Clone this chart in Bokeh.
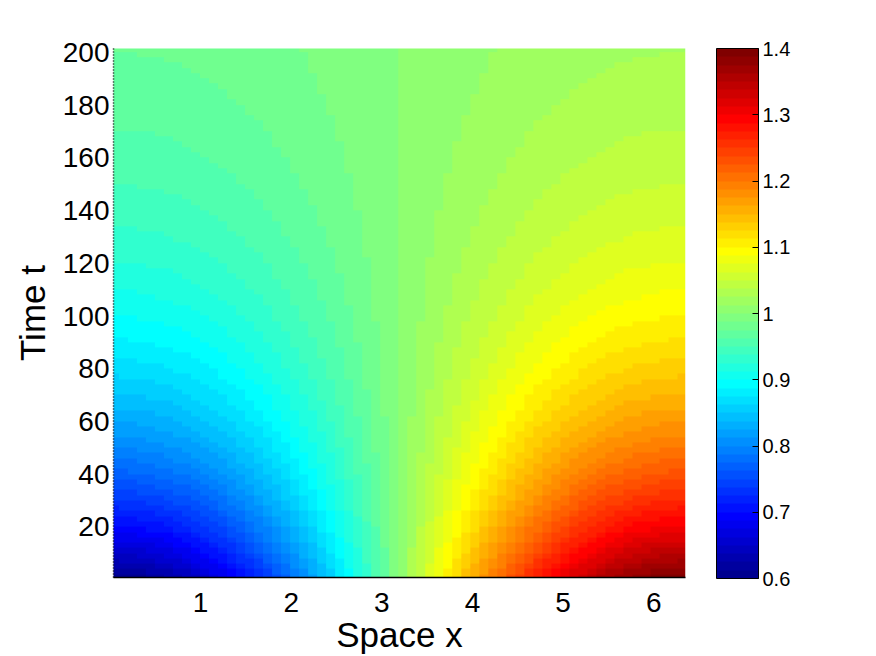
import numpy as np
from bokeh.plotting import figure
from bokeh.models import (LinearColorMapper, ColorBar, FixedTicker,
                          CustomJSTickFormatter, Range1d)
from bokeh.embed import file_html
from bokeh.resources import INLINE

# ---------------- data ----------------
x_ticks = [1, 2, 3, 4, 5, 6]
t_ticks = [20, 40, 60, 80, 100, 120, 140, 160, 180, 200]
cbar_ticks = [0.6, 0.7, 0.8, 0.9, 1.0, 1.1, 1.2, 1.3, 1.4]

# value of u along the bottom row (t ~ 0), 64 equal columns across x in [0, 2*pi]
u_start = [0.6001, 0.6011, 0.6030, 0.6059, 0.6097, 0.6145, 0.6202, 0.6268,
           0.6343, 0.6427, 0.6520, 0.6621, 0.6730, 0.6847, 0.6971, 0.7103,
           0.7242, 0.7387, 0.7539, 0.7697, 0.7860, 0.8028, 0.8202, 0.8379,
           0.8560, 0.8745, 0.8933, 0.9124, 0.9316, 0.9510, 0.9706, 0.9902,
           1.0098, 1.0294, 1.0490, 1.0684, 1.0876, 1.1067, 1.1255, 1.1440,
           1.1621, 1.1798, 1.1972, 1.2140, 1.2303, 1.2461, 1.2613, 1.2758,
           1.2897, 1.3029, 1.3153, 1.3270, 1.3379, 1.3480, 1.3573, 1.3657,
           1.3732, 1.3798, 1.3855, 1.3903, 1.3941, 1.3970, 1.3989, 1.3999]

# share of the initial deviation from 1 that is left, rows every 2 time units (t = 1, 3, ..., 201)
remaining = [0.9862, 0.9593, 0.9330, 0.9075, 0.8827, 0.8586, 0.8351, 0.8123, 0.7900, 0.7684,
             0.7474, 0.7270, 0.7071, 0.6878, 0.6690, 0.6507, 0.6329, 0.6156, 0.5987, 0.5824,
             0.5664, 0.5510, 0.5359, 0.5212, 0.5070,
             0.4931, 0.4796, 0.4665, 0.4538, 0.4414, 0.4293, 0.4176, 0.4061, 0.3950, 0.3842,
             0.3737, 0.3635, 0.3536, 0.3439, 0.3345, 0.3253, 0.3164, 0.3078, 0.2994, 0.2912,
             0.2832, 0.2755, 0.2680, 0.2606, 0.2535,
             0.2466, 0.2398, 0.2333, 0.2269, 0.2207, 0.2146, 0.2088, 0.2031, 0.1975, 0.1921,
             0.1869, 0.1817, 0.1768, 0.1719, 0.1672, 0.1627, 0.1582, 0.1539, 0.1497, 0.1456,
             0.1416, 0.1377, 0.1340, 0.1303, 0.1267,
             0.1233, 0.1199, 0.1166, 0.1134, 0.1103, 0.1073, 0.1044, 0.1015, 0.0988, 0.0961,
             0.0934, 0.0909, 0.0884, 0.0860, 0.0836, 0.0813, 0.0791, 0.0770, 0.0748, 0.0728,
             0.0708, 0.0689, 0.0670, 0.0652, 0.0634,
             0.0616]

field = 1.0 + np.outer(np.array(remaining), np.array(u_start) - 1.0)


# ---------------- MATLAB jet(64) palette ----------------
def jet(m=64):
    n = int(np.ceil(m / 4))
    u = np.concatenate([np.arange(1, n + 1) / n, np.ones(n - 1), np.arange(n, 0, -1) / n])
    g = int(np.ceil(n / 2)) - (1 if m % 4 == 1 else 0) + np.arange(1, len(u) + 1)
    r = g + n
    b = g - n
    J = np.zeros((m, 3))
    k = r <= m
    J[r[k] - 1, 0] = u[k]
    k = g <= m
    J[g[k] - 1, 1] = u[k]
    k = b >= 1
    J[b[k] - 1, 2] = u[k]
    return ['#%02x%02x%02x' % tuple(int(round(c * 255)) for c in row) for row in J]


palette = jet(64)
mapper = LinearColorMapper(palette=palette, low=0.6, high=1.4)

FONT = "Liberation Sans"

p = figure(frame_width=572, frame_height=529,
           x_range=Range1d(0.04, 6.35), y_range=Range1d(0.8, 201.5),
           output_backend="svg", toolbar_location=None,
           min_border_left=113, min_border_top=48,
           min_border_bottom=10, min_border_right=60)

p.image(image=[field], x=0, y=0, dw=6.35, dh=202, color_mapper=mapper)

p.outline_line_color = None
p.grid.visible = False
p.background_fill_color = "white"
p.border_fill_color = "white"

# x axis
p.xaxis.ticker = FixedTicker(ticks=x_ticks)
p.xaxis.axis_line_color = "black"
p.xaxis.axis_line_width = 1.5
p.xaxis.major_tick_line_color = None
p.xaxis.major_tick_out = 0
p.xaxis.major_tick_in = 0
p.xaxis.minor_tick_line_color = None
p.xaxis.major_label_text_font = FONT
p.xaxis.major_label_text_font_size = "28px"
p.xaxis.major_label_text_color = "black"
p.xaxis.major_label_standoff = 15
p.xaxis.axis_label = "Space x"
p.xaxis.axis_label_text_font = FONT
p.xaxis.axis_label_text_font_size = "35px"
p.xaxis.axis_label_text_font_style = "normal"
p.xaxis.axis_label_text_color = "black"
p.xaxis.axis_label_standoff = 0

# y axis
p.yaxis.ticker = FixedTicker(ticks=t_ticks)
p.yaxis.axis_line_color = "black"
p.yaxis.axis_line_width = 1.5
p.yaxis.axis_line_dash = "1 2"
p.yaxis.major_tick_line_color = None
p.yaxis.major_tick_out = 0
p.yaxis.major_tick_in = 0
p.yaxis.minor_tick_line_color = None
p.yaxis.major_label_text_font = FONT
p.yaxis.major_label_text_font_size = "28px"
p.yaxis.major_label_text_color = "black"
p.yaxis.major_label_standoff = 4
p.yaxis.axis_label = "Time t"
p.yaxis.axis_label_text_font = FONT
p.yaxis.axis_label_text_font_size = "35px"
p.yaxis.axis_label_text_font_style = "normal"
p.yaxis.axis_label_text_color = "black"
p.yaxis.axis_label_standoff = 8

cb = ColorBar(color_mapper=mapper,
              ticker=FixedTicker(ticks=cbar_ticks),
              formatter=CustomJSTickFormatter(code="return tick.toFixed(1).replace(/\\.0$/, '');"),
              width=42, height=530, padding=0, margin=0, location=(31, -1),
              bar_line_color="black", bar_line_width=1,
              major_tick_line_color="black", major_tick_in=6, major_tick_out=0,
              minor_tick_line_color=None,
              major_label_text_font=FONT, major_label_text_font_size="20px",
              major_label_text_color="black", label_standoff=4,
              background_fill_alpha=0)
p.add_layout(cb, "right")

open("out.html", "w").write(file_html(p, INLINE))
